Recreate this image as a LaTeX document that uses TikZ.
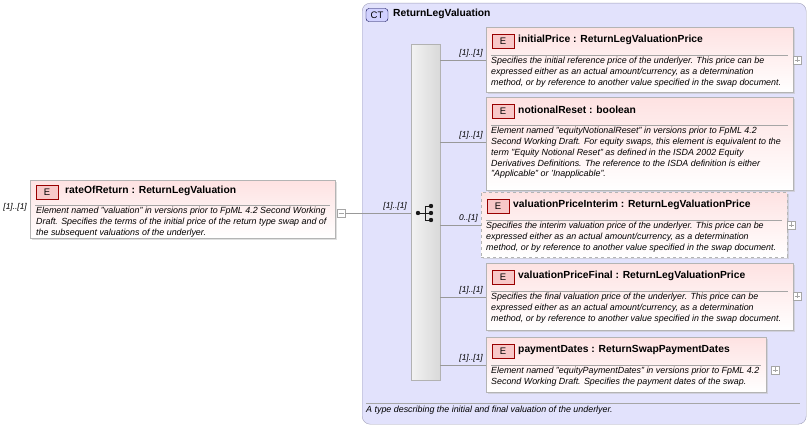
\documentclass[tikz,border=0pt]{standalone}
\usepackage{fontspec}
\setmainfont{Liberation Sans}
\usetikzlibrary{shadows}
\definecolor{ctfill}{HTML}{E2E2FC}
\definecolor{ctborder}{HTML}{A0A0B8}
\definecolor{efill}{HTML}{FCE4E4}
\definecolor{eborder}{HTML}{B4B4B4}
\definecolor{badge}{HTML}{F8C8C8}
\tikzset{
  x=1pt,y=-1pt,
  ebox/.style={draw=eborder,top color=efill!80!red!40,bottom color=white,shading angle=0,inner sep=0,drop shadow={shadow xshift=2pt,shadow yshift=-2pt,fill=black!25}},
  badgeE/.style={draw=red!60!black,fill=badge,inner sep=0,minimum width=22pt,minimum height=14pt,font=\fontsize{9.5}{9.5}\selectfont},
  title/.style={anchor=west,inner sep=0,font=\fontsize{10.3}{11}\selectfont\bfseries},
  desc/.style={anchor=north west,inner sep=0,align=left,font=\fontsize{8.9}{10.8}\selectfont\itshape},
  card/.style={anchor=south east,inner sep=0,font=\fontsize{8.4}{8.5}\selectfont\itshape},
  conn/.style={draw=gray!80,line width=0.6pt},
  pm/.style={draw=gray!70,fill=white,minimum size=8pt,inner sep=0},
}
\newcommand{\elembox}[9]{% name x1 y1 x2 y2 title desc style plusx
  \node[ebox,#8,minimum width=#4-#2,minimum height=#5-#3,anchor=north west] (#1) at (#2,#3) {};
  \node[badgeE] (#1E) at (#2+17,#3+14) {E};
  \node[title] (#1T) at (#2+32,#3+13) {#6};
  \draw[gray!70] (#2+5,#3+28) -- (#4-5,#3+28);
  \node[desc] (#1D) at (#2+5,#3+30) {#7};
  \node[pm] (#1P) at (#9,#3+33) {};
  \draw[gray!70] (#9-2.5,#3+33) -- (#9+2.5,#3+33) (#9,#3+30.5) -- (#9,#3+35.5);
}
\begin{document}
\begin{tikzpicture}
\useasboundingbox (0,0) rectangle (811,427);
% CT container
\node[draw=ctborder,fill=ctfill,rounded corners=8pt,minimum width=444pt,minimum height=421pt,anchor=north west,inner sep=0] (ct) at (362,3) {};
\node[draw=blue!30!black,fill=blue!18,rounded corners=3pt,minimum width=22pt,minimum height=13pt,inner sep=0,font=\fontsize{9.5}{9.5}\selectfont] (ctb) at (377,15) {CT};
\node[title] (ctt) at (393,14) {ReturnLegValuation};
\draw[gray!70] (366,403) -- (800,403);
\node[desc] (ctd) at (366,406) {A type describing the initial and final valuation of the underlyer.};
% sequence bar
\node[draw=gray!60,left color=gray!10,right color=gray!30,minimum width=29pt,minimum height=336pt,anchor=north west,inner sep=0] (seq) at (411,44) {};
\draw[gray!20!black,line width=0.8pt] (418,213) -- (425,213) (425,206) -- (425,220) (425,206) -- (431,206) (425,220) -- (431,220) (425,213) -- (431,213);
\fill[gray!20!black] (418,213) circle [radius=2.2] (431,206) circle [radius=2.2] (431,213) circle [radius=2.2] (431,220) circle [radius=2.2];
% left element
\node[ebox,minimum width=305pt,minimum height=58pt,anchor=north west] (ror) at (30,180) {};
\node[badgeE] (rorE) at (47,192) {E};
\node[title] (rorT) at (65,191) {rateOfReturn : ReturnLegValuation};
\draw[gray!70] (35,205) -- (330,205);
\node[desc] (rorD) at (36,207) {Element named "valuation" in versions prior to FpML 4.2 Second Working\\Draft. Specifies the terms of the initial price of the return type swap and of\\the subsequent valuations of the underlyer.};
\node[pm] (rorP) at (341,213) {};
\draw[gray!70] (338.5,213) -- (343.5,213);
\node[card] (c0) at (27,211) {[1]..[1]};
\draw[conn] (rorP) -- (seq.west |- rorP);
\node[card] (c1) at (407,210) {[1]..[1]};
% children
\elembox{ip}{486}{27}{793}{92}{initialPrice : ReturnLegValuationPrice}{Specifies the initial reference price of the underlyer. This price can be\\expressed either as an actual amount/currency, as a determination\\method, or by reference to another value specified in the swap document.}{}{797}
\elembox{nr}{486}{97}{793}{190}{notionalReset : boolean}{Element named "equityNotionalReset" in versions prior to FpML 4.2\\Second Working Draft. For equity swaps, this element is equivalent to the\\term "Equity Notional Reset" as defined in the ISDA 2002 Equity\\Derivatives Definitions. The reference to the ISDA definition is either\\"Applicable" or 'Inapplicable".}{}{1000}
\elembox{vi}{481}{192}{787}{257}{valuationPriceInterim : ReturnLegValuationPrice}{Specifies the interim valuation price of the underlyer. This price can be\\expressed either as an actual amount/currency, as a determination\\method, or by reference to another value specified in the swap document.}{dashed}{791}
\elembox{vf}{486}{263}{793}{330}{valuationPriceFinal : ReturnLegValuationPrice}{Specifies the final valuation price of the underlyer. This price can be\\expressed either as an actual amount/currency, as a determination\\method, or by reference to another value specified in the swap document.}{}{797}
\elembox{pd}{486}{337}{766}{392}{paymentDates : ReturnSwapPaymentDates}{Element named "equityPaymentDates" in versions prior to FpML 4.2\\Second Working Draft. Specifies the payment dates of the swap.}{}{775}
\draw[conn] (seq.east |- 0,60) -- (ip.west |- 0,60);
\draw[conn] (seq.east |- 0,142) -- (nr.west |- 0,142);
\draw[conn] (seq.east |- 0,225) -- (vi.west |- 0,225);
\draw[conn] (seq.east |- 0,297) -- (vf.west |- 0,297);
\draw[conn] (seq.east |- 0,365) -- (pd.west |- 0,365);
\node[card] (l1) at (483,57) {[1]..[1]};
\node[card] (l2) at (483,139) {[1]..[1]};
\node[card] (l3) at (478,222) {0..[1]};
\node[card] (l4) at (483,294) {[1]..[1]};
\node[card] (l5) at (483,362) {[1]..[1]};
\end{tikzpicture}
\end{document}
